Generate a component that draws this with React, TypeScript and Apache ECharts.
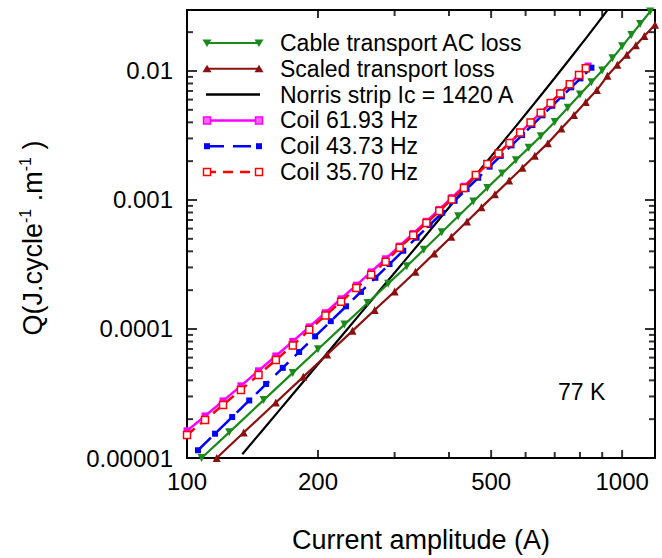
import { useEffect, useRef } from 'react';
import * as echarts from 'echarts';

const FONT = '"Liberation Sans", Arial, Helvetica, sans-serif';

const X_MIN = 100;
const X_MAX = 1190;
const Y_MIN = 0.00001;
const Y_MAX = 0.0297;

const xTickLabels = [100, 200, 500, 1000];
const xMinorTicks = [300, 400, 600, 700, 800, 900];
const yTickLabels = ['0.00001', '0.0001', '0.001', '0.01'];
const yMajorTicks = [1e-5, 1e-4, 1e-3, 1e-2];
const yMinorTicks = [
  2e-5, 3e-5, 4e-5, 5e-5, 6e-5, 7e-5, 8e-5, 9e-5,
  2e-4, 3e-4, 4e-4, 5e-4, 6e-4, 7e-4, 8e-4, 9e-4,
  2e-3, 3e-3, 4e-3, 5e-3, 6e-3, 7e-3, 8e-3, 9e-3,
  2e-2,
];

const cableX = [108, 125, 150, 175, 200, 230, 260, 290, 320, 350, 385, 420, 455, 490, 530, 570, 610, 650, 700, 750, 800, 850, 900, 950, 1000, 1050, 1100, 1160];
const cableQ = [1.0e-5, 1.581e-5, 2.81e-5, 4.569e-5, 6.966e-5, 1.0819e-4, 1.5924e-4, 2.2467e-4, 3.0654e-4, 4.1082e-4, 5.6228e-4, 7.4838e-4, 9.7431e-4, 1.2414e-3, 1.6034e-3, 2.033e-3, 2.5369e-3, 3.1201e-3, 4.0279e-3, 5.1834e-3, 6.5601e-3, 8.1833e-3, 1.0085e-2, 1.2534e-2, 1.553e-2, 1.9046e-2, 2.3121e-2, 2.8863e-2];

const scaledX = [117, 135, 160, 185, 210, 240, 270, 300, 335, 370, 405, 440, 475, 510, 550, 590, 630, 675, 725, 775, 825, 875, 925, 975, 1025, 1075, 1125, 1190];
const scaledQ = [1.0e-5, 1.575e-5, 2.693e-5, 4.256e-5, 6.348e-5, 9.672e-5, 1.4019e-4, 1.9548e-4, 2.7797e-4, 3.8548e-4, 5.1927e-4, 6.8202e-4, 8.7673e-4, 1.1056e-3, 1.4146e-3, 1.7783e-3, 2.2029e-3, 2.7586e-3, 3.5787e-3, 4.5661e-3, 5.7376e-3, 7.1138e-3, 9.177e-3, 1.1156e-2, 1.3346e-2, 1.583e-2, 1.8635e-2, 2.2792e-2];

const norrisX = [134, 150, 175, 200, 250, 300, 350, 400, 450, 500, 550, 600, 650, 700, 750, 800, 850, 900, 935];
const norrisQ = [1.07e-5, 1.68e-5, 3.12e-5, 5.33e-5, 1.31e-4, 2.73e-4, 5.08e-4, 8.74e-4, 1.413e-3, 2.18e-3, 3.223e-3, 4.62e-3, 6.46e-3, 8.83e-3, 1.184e-2, 1.564e-2, 2.035e-2, 2.62e-2, 3.11e-2];

const coil61X = [100, 110, 121, 133, 146, 160, 175, 191, 208, 226, 245, 265, 286, 308, 331, 355, 380, 406, 433, 461, 490, 520, 551, 583, 616, 650, 685, 721, 758, 796, 835];
const coil61Q = [1.623e-5, 2.118e-5, 2.771e-5, 3.626e-5, 4.74e-5, 6.178e-5, 8.025e-5, 1.0383e-4, 1.3372e-4, 1.7141e-4, 2.1862e-4, 2.7731e-4, 3.5013e-4, 4.3975e-4, 5.4959e-4, 6.8365e-4, 8.4617e-4, 1.0423e-3, 1.2782e-3, 1.5607e-3, 1.8979e-3, 2.2978e-3, 2.7711e-3, 3.3298e-3, 3.985e-3, 4.7538e-3, 5.651e-3, 6.6954e-3, 7.907e-3, 9.3081e-3, 1.0929e-2];

const coil43X = [106, 116, 127, 139, 152, 166, 181, 197, 214, 232, 251, 271, 292, 314, 337, 361, 386, 412, 439, 467, 496, 526, 557, 589, 622, 656, 691, 727, 764, 802, 850];
const coil43Q = [1.148e-5, 1.543e-5, 2.077e-5, 2.793e-5, 3.745e-5, 5.0e-5, 6.639e-5, 8.767e-5, 1.15e-4, 1.4993e-4, 1.9406e-4, 2.495e-4, 3.187e-4, 4.045e-4, 5.1002e-4, 6.3914e-4, 7.962e-4, 9.8598e-4, 1.2141e-3, 1.4873e-3, 1.8122e-3, 2.1975e-3, 2.6517e-3, 3.1855e-3, 3.8079e-3, 4.5334e-3, 5.3757e-3, 6.3499e-3, 7.4704e-3, 8.7649e-3, 1.0603e-2];

const coil35X = [100, 110, 121, 133, 146, 160, 175, 191, 208, 226, 245, 265, 286, 308, 331, 355, 380, 406, 433, 461, 490, 520, 551, 583, 616, 650, 685, 721, 758, 796, 825];
const coil35Q = [1.509e-5, 1.97e-5, 2.577e-5, 3.372e-5, 4.408e-5, 5.746e-5, 7.463e-5, 9.864e-5, 1.2703e-4, 1.6284e-4, 2.0769e-4, 2.6344e-4, 3.3262e-4, 4.2656e-4, 5.331e-4, 6.6314e-4, 8.2078e-4, 1.011e-3, 1.2399e-3, 1.5607e-3, 1.8979e-3, 2.2978e-3, 2.7711e-3, 3.3298e-3, 3.985e-3, 4.7538e-3, 5.651e-3, 6.6954e-3, 7.907e-3, 9.3081e-3, 1.0493e-2];

const seriesNames = [
  'Cable transport AC loss',
  'Scaled transport loss',
  'Norris strip Ic = 1420 A',
  'Coil 61.93 Hz',
  'Coil 43.73 Hz',
  'Coil 35.70 Hz',
];

const GREEN = '#1a8a1a';
const DARKRED = '#8b1010';
const MAGENTA = '#ff00ff';
const BLUE = '#0000ff';
const RED = '#ff0000';

const zip = (xs: number[], ys: number[]) => xs.map((x, i) => [x, ys[i]]);

type Side = 'bottom' | 'top' | 'left' | 'right';
function tickItems(side: Side, values: number[], len: number): any[] {
  const w = 2;
  return values.map((v) => {
    if (side === 'bottom') return { value: [v, Y_MIN], symbolSize: [w, len], symbolOffset: [0, -len / 2] };
    if (side === 'top') return { value: [v, Y_MAX], symbolSize: [w, len], symbolOffset: [0, len / 2] };
    if (side === 'left') return { value: [X_MIN, v], symbolSize: [len, w], symbolOffset: [len / 2, 0] };
    return { value: [X_MAX, v], symbolSize: [len, w], symbolOffset: [-len / 2, 0] };
  });
}

function legendGraphics(): any[] {
  const out: any[] = [];
  const x1 = 206;
  const x2 = 260;
  const tx = 280;
  const top = 43;
  const step = 25.8;
  const tri = (cx: number, cy: number, down: boolean, fill: string) => ({
    type: 'polygon',
    shape: {
      points: down
        ? [[cx - 4.5, cy - 3.5], [cx + 4.5, cy - 3.5], [cx, cy + 4]]
        : [[cx - 4.5, cy + 3.5], [cx + 4.5, cy + 3.5], [cx, cy - 4]],
    },
    style: { fill },
  });
  const sq = (cx: number, cy: number, s: number, fill: string, stroke?: string) => ({
    type: 'rect',
    shape: { x: cx - s / 2, y: cy - s / 2, width: s, height: s },
    style: stroke ? { fill, stroke, lineWidth: 1.5 } : { fill },
  });
  const specs = [
    { color: GREEN, dash: null as any, width: 2, marker: (cx: number, cy: number) => tri(cx, cy, true, GREEN) },
    { color: DARKRED, dash: null as any, width: 2, marker: (cx: number, cy: number) => tri(cx, cy, false, DARKRED) },
    { color: '#000', dash: null as any, width: 2.5, marker: null as any },
    { color: MAGENTA, dash: null as any, width: 2.5, marker: (cx: number, cy: number) => sq(cx, cy, 7, '#ff66ff', MAGENTA) },
    { color: BLUE, dash: [18, 9], width: 2.5, marker: (cx: number, cy: number) => sq(cx, cy, 6, BLUE) },
    { color: RED, dash: [10, 7], width: 2.5, marker: (cx: number, cy: number) => sq(cx, cy, 7, '#fff', RED) },
  ];
  specs.forEach((s, i) => {
    const cy = top + step * i;
    out.push({
      type: 'line',
      shape: { x1, y1: cy, x2, y2: cy },
      style: { stroke: s.color, lineWidth: s.width, lineDash: s.dash || undefined },
      z: 20,
    });
    if (s.marker) {
      out.push({ ...s.marker(x1 + 1, cy), z: 21 });
      out.push({ ...s.marker(x2 - 1, cy), z: 21 });
    }
    out.push({
      type: 'text',
      x: tx,
      y: cy,
      style: { text: seriesNames[i], fontSize: 23, fontFamily: FONT, fill: '#000', verticalAlign: 'middle' },
      z: 21,
    });
  });
  return out;
}

export default function App() {
  const ref = useRef<HTMLDivElement>(null);

  useEffect(() => {
    if (!ref.current) return;
    const chart = echarts.init(ref.current, null, { renderer: 'svg' });

    const tickData = [
      ...tickItems('bottom', xTickLabels, 8),
      ...tickItems('bottom', xMinorTicks, 6),
      ...tickItems('top', xTickLabels, 8),
      ...tickItems('top', xMinorTicks, 6),
      ...tickItems('left', yMajorTicks, 10),
      ...tickItems('left', yMinorTicks, 6),
      ...tickItems('right', yMajorTicks, 10),
      ...tickItems('right', yMinorTicks, 6),
    ];

    const option: any = {
      animation: false,
      backgroundColor: '#fff',
      grid: {
        left: 187,
        right: 7,
        top: 10,
        bottom: 93,
        show: true,
        borderColor: '#000',
        borderWidth: 2,
        backgroundColor: 'transparent',
      },
      xAxis: {
        type: 'log',
        logBase: 10,
        min: X_MIN,
        max: X_MAX,
        axisLine: { show: false },
        splitLine: { show: false },
        minorTick: { show: false },
        axisTick: { show: false },
        axisLabel: {
          customValues: xTickLabels,
          formatter: (v: number) => String(Math.round(v)),
          color: '#000',
          fontSize: 24,
          fontFamily: FONT,
          margin: 11,
          showMaxLabel: true,
        },
        name: 'Current amplitude (A)',
        nameLocation: 'middle',
        nameGap: 68,
        nameTextStyle: { color: '#000', fontSize: 27, fontFamily: FONT },
      },
      yAxis: {
        type: 'log',
        logBase: 10,
        min: Y_MIN,
        max: Y_MAX,
        axisLine: { show: false },
        splitLine: { show: false },
        minorTick: { show: false },
        axisTick: { show: false },
        axisLabel: {
          color: '#000',
          fontSize: 24,
          fontFamily: FONT,
          margin: 14,
          showMaxLabel: false,
          formatter: (v: number) => {
            const hit = yTickLabels.find((s) => Math.abs(Math.log10(Number(s)) - Math.log10(v)) < 0.01);
            return hit ?? '';
          },
        },
      },
      graphic: [
        ...legendGraphics(),
        {
          type: 'text',
          x: 558,
          y: 392,
          style: { text: '77 K', fontSize: 23, fontFamily: FONT, fill: '#000', verticalAlign: 'middle' },
        },
        {
          type: 'text',
          x: 33,
          y: 238,
          rotation: Math.PI / 2,
          style: {
            text: '{m|Q(J.cycle}{s|-1}{m| .m}{s|-1}{m| )}',
            align: 'center',
            verticalAlign: 'middle',
            fill: '#000',
            rich: {
              m: { fontSize: 27, fontFamily: FONT, lineHeight: 32, verticalAlign: 'middle', fill: '#000' },
              s: { fontSize: 16, fontFamily: FONT, lineHeight: 14, verticalAlign: 'top', fill: '#000' },
            },
          },
        },
      ],
      series: [
        {
          name: seriesNames[0],
          type: 'line',
          data: zip(cableX, cableQ),
          symbol: 'triangle',
          symbolRotate: 180,
          symbolSize: 8,
          itemStyle: { color: GREEN },
          lineStyle: { color: GREEN, width: 2.2 },
          clip: true,
          z: 3,
        },
        {
          name: seriesNames[1],
          type: 'line',
          data: zip(scaledX, scaledQ),
          symbol: 'triangle',
          symbolSize: 8,
          itemStyle: { color: DARKRED },
          lineStyle: { color: DARKRED, width: 2.2 },
          clip: true,
          z: 3,
        },
        {
          name: seriesNames[2],
          type: 'line',
          data: zip(norrisX, norrisQ),
          symbol: 'none',
          smooth: 0.3,
          itemStyle: { color: '#000' },
          lineStyle: { color: '#000', width: 2.2 },
          clip: true,
          z: 2,
        },
        {
          name: seriesNames[3],
          type: 'line',
          data: zip(coil61X, coil61Q),
          symbol: 'rect',
          symbolSize: 7,
          itemStyle: { color: MAGENTA },
          lineStyle: { color: MAGENTA, width: 2.5 },
          clip: true,
          z: 4,
        },
        {
          name: seriesNames[4],
          type: 'line',
          data: zip(coil43X, coil43Q),
          symbol: 'rect',
          symbolSize: 6,
          itemStyle: { color: BLUE },
          lineStyle: { color: BLUE, width: 2.5, type: [18, 9] },
          clip: true,
          z: 5,
        },
        {
          name: seriesNames[5],
          type: 'line',
          data: zip(coil35X, coil35Q),
          symbol: 'rect',
          symbolSize: 7,
          itemStyle: { color: '#fff', borderColor: RED, borderWidth: 1.5 },
          lineStyle: { color: RED, width: 2.5, type: [10, 7] },
          clip: true,
          z: 6,
        },
        {
          name: 'axis ticks',
          type: 'scatter',
          data: tickData,
          symbol: 'rect',
          itemStyle: { color: '#000' },
          silent: true,
          clip: false,
          z: 10,
        },
      ],
    };

    chart.setOption(option);
    return () => chart.dispose();
  }, []);

  return (
    <div
      ref={ref}
      style={{ position: 'absolute', left: 0, top: 0, width: 662, height: 558, background: '#fff' }}
    />
  );
}
